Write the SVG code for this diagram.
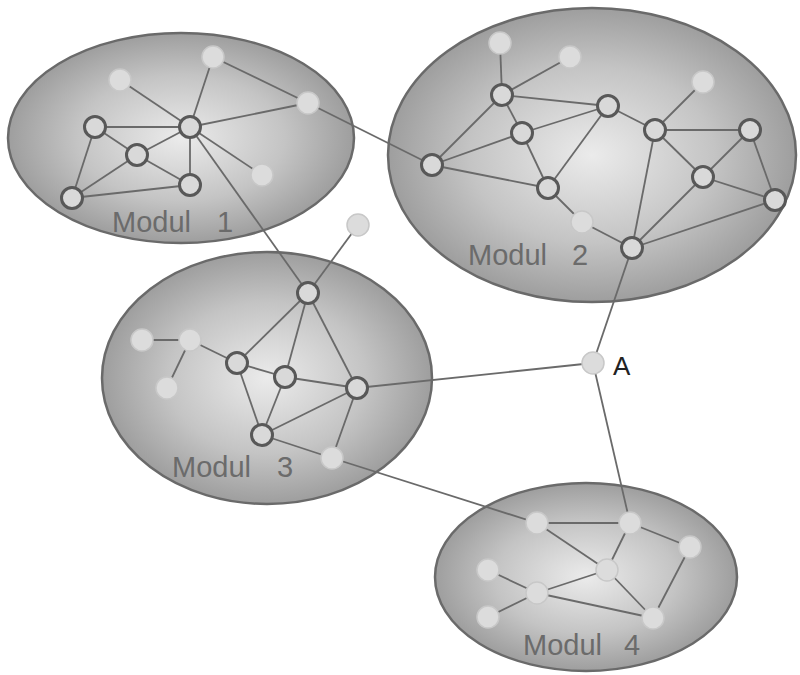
<svg xmlns="http://www.w3.org/2000/svg" width="800" height="675" viewBox="0 0 800 675">
<defs>
<radialGradient id="g" cx="50%" cy="50%" r="50%">
<stop offset="0" stop-color="#ebebeb"/>
<stop offset="0.6" stop-color="#c4c4c4"/>
<stop offset="1" stop-color="#9e9e9e"/>
</radialGradient>
</defs>
<style>
.mod{fill:url(#g);stroke:#6a6a6a;stroke-width:2.5}
.lbl{font-family:"Liberation Sans",Arial,sans-serif;font-size:29px;fill:#6b6b6b}
.e line{stroke:#6a6a6a;stroke-width:1.8}
.dk{fill:#d9d9d9;stroke:#585858;stroke-width:3}
.lt{fill:#dcdcdc;stroke:#c8c8c8;stroke-width:1.5}
</style>
<rect width="800" height="675" fill="#fff"/>
<g id="modul1"><ellipse class="mod" cx="181" cy="138" rx="173" ry="105"/><text class="lbl" x="112" y="232">Modul <tspan dx="18">1</tspan></text></g>
<g id="modul2"><ellipse class="mod" cx="592" cy="155" rx="204" ry="147"/><text class="lbl" x="468" y="265">Modul <tspan dx="17">2</tspan></text></g>
<g id="modul3"><ellipse class="mod" cx="267" cy="378" rx="165" ry="126"/><text class="lbl" x="172" y="477">Modul <tspan dx="18">3</tspan></text></g>
<g id="modul4"><ellipse class="mod" cx="586" cy="577" rx="151" ry="94"/><text class="lbl" x="523" y="655">Modul <tspan dx="14">4</tspan></text></g>
<g id="connectors" class="e">
<line x1="120" y1="80" x2="190" y2="127"/>
<line x1="213" y1="57" x2="190" y2="127"/>
<line x1="213" y1="57" x2="308" y2="103"/>
<line x1="190" y1="127" x2="308" y2="103"/>
<line x1="190" y1="127" x2="95" y2="127"/>
<line x1="190" y1="127" x2="137" y2="155"/>
<line x1="190" y1="127" x2="190" y2="185"/>
<line x1="190" y1="127" x2="262" y2="175"/>
<line x1="190" y1="127" x2="308" y2="293"/>
<line x1="95" y1="127" x2="137" y2="155"/>
<line x1="95" y1="127" x2="72" y2="198"/>
<line x1="137" y1="155" x2="190" y2="185"/>
<line x1="137" y1="155" x2="72" y2="198"/>
<line x1="72" y1="198" x2="190" y2="185"/>
<line x1="308" y1="103" x2="432" y2="165"/>
<line x1="500" y1="43" x2="502" y2="95"/>
<line x1="570" y1="57" x2="502" y2="95"/>
<line x1="502" y1="95" x2="608" y2="106"/>
<line x1="502" y1="95" x2="522" y2="133"/>
<line x1="502" y1="95" x2="432" y2="165"/>
<line x1="522" y1="133" x2="432" y2="165"/>
<line x1="522" y1="133" x2="608" y2="106"/>
<line x1="522" y1="133" x2="548" y2="188"/>
<line x1="432" y1="165" x2="548" y2="188"/>
<line x1="608" y1="106" x2="548" y2="188"/>
<line x1="608" y1="106" x2="655" y2="130"/>
<line x1="655" y1="130" x2="703" y2="82"/>
<line x1="655" y1="130" x2="750" y2="130"/>
<line x1="655" y1="130" x2="703" y2="177"/>
<line x1="655" y1="130" x2="632" y2="248"/>
<line x1="750" y1="130" x2="703" y2="177"/>
<line x1="750" y1="130" x2="775" y2="200"/>
<line x1="703" y1="177" x2="775" y2="200"/>
<line x1="703" y1="177" x2="632" y2="248"/>
<line x1="775" y1="200" x2="632" y2="248"/>
<line x1="548" y1="188" x2="582" y2="222"/>
<line x1="582" y1="222" x2="632" y2="248"/>
<line x1="632" y1="248" x2="593" y2="363"/>
<line x1="593" y1="363" x2="357" y2="388"/>
<line x1="593" y1="363" x2="630" y2="523"/>
<line x1="358" y1="225" x2="308" y2="293"/>
<line x1="308" y1="293" x2="237" y2="363"/>
<line x1="308" y1="293" x2="285" y2="377"/>
<line x1="308" y1="293" x2="357" y2="388"/>
<line x1="142" y1="340" x2="190" y2="340"/>
<line x1="190" y1="340" x2="167" y2="388"/>
<line x1="190" y1="340" x2="237" y2="363"/>
<line x1="237" y1="363" x2="285" y2="377"/>
<line x1="237" y1="363" x2="262" y2="435"/>
<line x1="285" y1="377" x2="357" y2="388"/>
<line x1="285" y1="377" x2="262" y2="435"/>
<line x1="357" y1="388" x2="262" y2="435"/>
<line x1="357" y1="388" x2="332" y2="458"/>
<line x1="262" y1="435" x2="332" y2="458"/>
<line x1="332" y1="458" x2="537" y2="523"/>
<line x1="537" y1="523" x2="630" y2="523"/>
<line x1="537" y1="523" x2="607" y2="570"/>
<line x1="630" y1="523" x2="607" y2="570"/>
<line x1="630" y1="523" x2="690" y2="547"/>
<line x1="690" y1="547" x2="653" y2="618"/>
<line x1="607" y1="570" x2="537" y2="593"/>
<line x1="607" y1="570" x2="653" y2="618"/>
<line x1="488" y1="570" x2="537" y2="593"/>
<line x1="537" y1="593" x2="488" y2="617"/>
<line x1="537" y1="593" x2="653" y2="618"/>
</g>
<g id="n1a"><circle class="lt" cx="120" cy="80" r="11"/></g>
<g id="n1b"><circle class="lt" cx="213" cy="57" r="11"/></g>
<g id="n1c"><circle class="lt" cx="308" cy="103" r="11"/></g>
<g id="n1h"><circle class="dk" cx="190" cy="127" r="10.5"/></g>
<g id="n1l"><circle class="dk" cx="95" cy="127" r="10.5"/></g>
<g id="n1m"><circle class="dk" cx="137" cy="155" r="10.5"/></g>
<g id="n1d"><circle class="dk" cx="190" cy="185" r="10.5"/></g>
<g id="n1e"><circle class="dk" cx="72" cy="198" r="10.5"/></g>
<g id="n1r"><circle class="lt" cx="262" cy="175" r="11"/></g>
<g id="n2t1"><circle class="lt" cx="500" cy="43" r="11"/></g>
<g id="n2t2"><circle class="lt" cx="570" cy="57" r="11"/></g>
<g id="n2a"><circle class="dk" cx="502" cy="95" r="10.5"/></g>
<g id="n2b"><circle class="dk" cx="522" cy="133" r="10.5"/></g>
<g id="n2c"><circle class="dk" cx="608" cy="106" r="10.5"/></g>
<g id="n2d"><circle class="dk" cx="655" cy="130" r="10.5"/></g>
<g id="n2t3"><circle class="lt" cx="703" cy="82" r="11"/></g>
<g id="n2e"><circle class="dk" cx="750" cy="130" r="10.5"/></g>
<g id="n2f"><circle class="dk" cx="703" cy="177" r="10.5"/></g>
<g id="n2g"><circle class="dk" cx="775" cy="200" r="10.5"/></g>
<g id="n2h"><circle class="dk" cx="432" cy="165" r="10.5"/></g>
<g id="n2i"><circle class="dk" cx="548" cy="188" r="10.5"/></g>
<g id="n2j"><circle class="lt" cx="582" cy="222" r="11"/></g>
<g id="n2k"><circle class="dk" cx="632" cy="248" r="10.5"/></g>
<g id="nA"><circle class="lt" cx="593" cy="363" r="11"/><text x="613" y="375" font-family="Liberation Sans, Arial, sans-serif" font-size="26" fill="#222">A</text></g>
<g id="n3t"><circle class="lt" cx="358" cy="225" r="11"/></g>
<g id="n3p"><circle class="dk" cx="308" cy="293" r="10.5"/></g>
<g id="n3q1"><circle class="lt" cx="142" cy="340" r="11"/></g>
<g id="n3q2"><circle class="lt" cx="190" cy="340" r="11"/></g>
<g id="n3q3"><circle class="lt" cx="167" cy="388" r="11"/></g>
<g id="n3r"><circle class="dk" cx="237" cy="363" r="10.5"/></g>
<g id="n3s"><circle class="dk" cx="285" cy="377" r="10.5"/></g>
<g id="n3t2"><circle class="dk" cx="357" cy="388" r="10.5"/></g>
<g id="n3u"><circle class="dk" cx="262" cy="435" r="10.5"/></g>
<g id="n3v"><circle class="lt" cx="332" cy="458" r="11"/></g>
<g id="n4w1"><circle class="lt" cx="537" cy="523" r="11"/></g>
<g id="n4w2"><circle class="lt" cx="630" cy="523" r="11"/></g>
<g id="n4w3"><circle class="lt" cx="690" cy="547" r="11"/></g>
<g id="n4w4"><circle class="lt" cx="607" cy="570" r="11"/></g>
<g id="n4w5"><circle class="lt" cx="488" cy="570" r="11"/></g>
<g id="n4w6"><circle class="lt" cx="537" cy="593" r="11"/></g>
<g id="n4w7"><circle class="lt" cx="488" cy="617" r="11"/></g>
<g id="n4w8"><circle class="lt" cx="653" cy="618" r="11"/></g>
</svg>
